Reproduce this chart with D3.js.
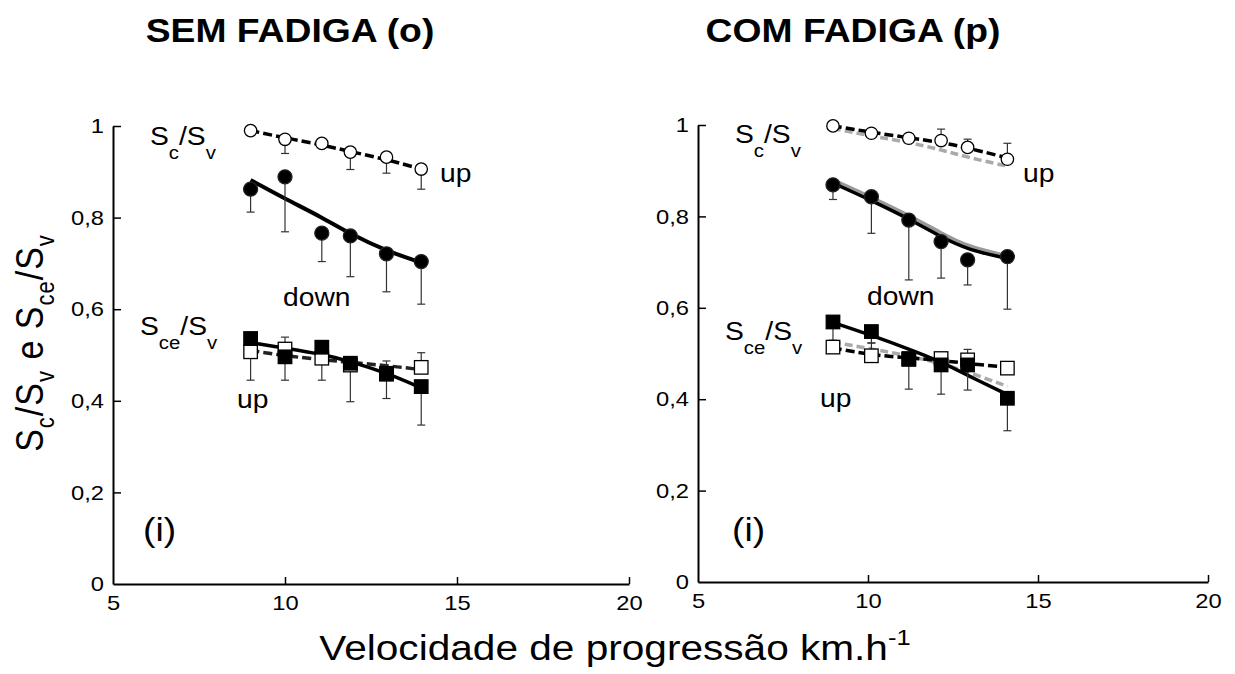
<!DOCTYPE html>
<html lang="pt">
<head>
<meta charset="UTF-8">
<title>Sc/Sv e Sce/Sv</title>
<script src="https://d3js.org/d3.v7.min.js"></script>
<style>
  body { margin: 0; background: #fff; }
  svg text { font-family: "Liberation Sans", Arial, sans-serif; fill: #000; }
</style>
</head>
<body>
<svg id="chart" width="1235" height="674"></svg>
<script>
// velocidades (km/h) de cada painel
const semSpeeds = [9.0, 10.0, 11.07, 11.9, 12.95, 13.96];
const comSpeeds = [8.97, 10.1, 11.2, 12.15, 12.93, 14.1];

// SEM FADIGA (o)
const semScUp       = [0.990, 0.971, 0.962, 0.943, 0.932, 0.906];
const semScUpSd     = [0, 0.031, 0, 0.038, 0.035, 0.044];
const semScUpFit    = [0.990, 0.974, 0.959, 0.944, 0.927, 0.906];
const semScDown     = [0.862, 0.889, 0.766, 0.760, 0.721, 0.704];
const semScDownSd   = [0.050, 0.120, 0.062, 0.089, 0.083, 0.093];
const semScDownFit  = [0.882, 0.841, 0.801, 0.764, 0.727, 0.702];
const semSceUp      = [0.507, 0.513, 0.493, 0.478, 0.460, 0.473];
const semSceUpSd    = [0, 0.026, 0, 0, 0.027, 0.032];
const semSceUpFit   = [0.510, 0.498, 0.490, 0.484, 0.477, 0.468];
const semSceDown    = [0.536, 0.496, 0.517, 0.482, 0.458, 0.431];
const semSceDownSd  = [0.091, 0.051, 0.072, 0.084, 0.053, 0.084];
const semSceDownFit = [0.527, 0.515, 0.502, 0.486, 0.461, 0.428];

// COM FADIGA (p)
const comScUp        = [0.998, 0.982, 0.971, 0.966, 0.951, 0.925];
const comScUpSd      = [0, 0, 0, 0.025, 0.018, 0.035];
const comScUpFit     = [0.998, 0.984, 0.972, 0.962, 0.950, 0.928];
const comScUpGray    = [0.992, 0.976, 0.962, 0.946, 0.929, 0.910];
const comScDown      = [0.869, 0.843, 0.792, 0.745, 0.705, 0.712];
const comScDownSd    = [0.032, 0.080, 0.131, 0.080, 0.055, 0.115];
const comScDownFit   = [0.873, 0.835, 0.795, 0.755, 0.727, 0.708];
const comScDownGray  = [0.878, 0.840, 0.801, 0.762, 0.732, 0.712];
const comSceUp       = [0.514, 0.495, 0.487, 0.489, 0.486, 0.468];
const comSceUpSd     = [0, 0.028, 0, 0, 0.023, 0];
const comSceUpFit    = [0.512, 0.497, 0.490, 0.485, 0.478, 0.470];
const comSceUpGray   = [0.525, 0.510, 0.495, 0.478, 0.460, 0.428];
const comSceDown     = [0.569, 0.548, 0.489, 0.475, 0.475, 0.402];
const comSceDownSd   = [0.040, 0.025, 0.067, 0.064, 0.055, 0.071];
const comSceDownFit  = [0.568, 0.540, 0.510, 0.482, 0.452, 0.410];

const xTicks = [5, 10, 15, 20];
const yTicks = [0, 0.2, 0.4, 0.6, 0.8, 1];

const svg = d3.select("#chart");
const SX = 1.13; // the original picture is a little wide
const fmt = d => d3.format("~g")(d).replace(".", ",");

// text with sub/superscripts: parts = [[str, "m"|"sub"|"sup"], ...]
function richText(g, parts, size, subSize, subDy) {
    const t = g.append("text").attr("font-size", size);
    let shift = 0;
    parts.forEach(([s, kind]) => {
        const target = kind === "sub" ? subDy : kind === "sup" ? -subDy : 0;
        t.append("tspan")
            .attr("dy", target - shift)
            .attr("font-size", kind === "m" ? size : subSize)
            .text(s);
        shift = target;
    });
    return t;
}

function panel(cfg) {
    const x = d3.scaleLinear().domain([5, 20]).range(cfg.xRange);
    const y = d3.scaleLinear().domain([0, 1]).range(cfg.yRange);
    const g = svg.append("g");

    // axes, ticks pointing inside
    const ax = g.append("g").attr("transform", `translate(0,${cfg.yRange[0]})`)
        .call(d3.axisBottom(x).tickValues(xTicks).tickSize(-7).tickSizeOuter(0).tickPadding(11).tickFormat(fmt));
    const ay = g.append("g").attr("transform", `translate(${cfg.xRange[0]},0)`)
        .call(d3.axisLeft(y).tickValues(yTicks).tickSize(-8).tickSizeOuter(0).tickPadding(8).tickFormat(fmt));
    [ax, ay].forEach(a => {
        a.select(".domain").attr("stroke", "#000").attr("stroke-width", 2);
        a.selectAll(".tick line").attr("stroke", "#000").attr("stroke-width", 1.5);
        a.selectAll(".tick text").attr("font-size", 21).attr("fill", "#000")
            .attr("font-family", "Liberation Sans, Arial, sans-serif")
            .attr("transform", `scale(${SX},1)`);
    });
    ax.selectAll(".tick").filter(d => d === 5).select("line").remove();
    ay.selectAll(".tick").filter(d => d === 0).select("line").remove();

    const sp = cfg.speeds;
    const line = d3.line().x((d, i) => x(sp[i])).y(d => y(d)).curve(d3.curveBasis);

    // fitted curves
    cfg.lines.forEach(l => {
        g.append("path").datum(l.values).attr("d", line)
            .attr("fill", "none")
            .attr("stroke", l.color)
            .attr("stroke-width", l.width)
            .attr("stroke-dasharray", l.dash || null);
    });

    // error bars (one-sided)
    cfg.series.forEach(s => {
        s.values.forEach((v, i) => {
            const sd = s.sd[i];
            if (!sd) return;
            const end = y(v + s.dir * sd), cx = x(sp[i]);
            g.append("line").attr("x1", cx).attr("x2", cx).attr("y1", y(v)).attr("y2", end)
                .attr("stroke", "#333").attr("stroke-width", 1.2);
            g.append("line").attr("x1", cx - 4).attr("x2", cx + 4).attr("y1", end).attr("y2", end)
                .attr("stroke", "#333").attr("stroke-width", 1.2);
        });
    });

    // markers
    cfg.series.forEach(s => {
        const sel = g.selectAll(null).data(s.values);
        if (s.shape === "circle") {
            sel.enter().append("circle")
                .attr("cx", (d, i) => x(sp[i])).attr("cy", d => y(d))
                .attr("r", s.filled ? 7 : 6.2)
                .attr("fill", s.filled ? "#000" : "#fff")
                .attr("stroke", s.filled ? "#222" : "#000").attr("stroke-width", 1.3);
        } else {
            const h = 13.5;
            sel.enter().append("rect")
                .attr("x", (d, i) => x(sp[i]) - h / 2).attr("y", d => y(d) - h / 2)
                .attr("width", h).attr("height", h)
                .attr("fill", s.filled ? "#000" : "#fff")
                .attr("stroke", "#000").attr("stroke-width", 1.3);
        }
    });

    // title
    svg.append("text").attr("transform", `translate(${cfg.titleX},42) scale(${SX},1)`)
        .attr("text-anchor", "middle").attr("font-size", 33).attr("font-weight", "bold")
        .text(cfg.title);

    // annotations
    const L = cfg.labels;
    richText(g.append("g").attr("transform", `translate(${L.sc[0]},${L.sc[1]}) scale(${SX},1)`),
        [["S", "m"], ["c", "sub"], ["/S", "m"], ["v", "sub"]], 25, 18, 14);
    richText(g.append("g").attr("transform", `translate(${L.sce[0]},${L.sce[1]}) scale(${SX},1)`),
        [["S", "m"], ["ce", "sub"], ["/S", "m"], ["v", "sub"]], 25, 18, 14);
    [["up", L.up1], ["down", L.down], ["up", L.up2]].forEach(([s, p]) => {
        g.append("text").attr("transform", `translate(${p[0]},${p[1]}) scale(${SX},1)`)
            .attr("font-size", 25).text(s);
    });
    g.append("text").attr("transform", `translate(${L.roman[0]},${L.roman[1]}) scale(${SX},1)`)
        .attr("font-size", 33).text("(i)");
}

panel({
    title: "SEM FADIGA (o)", titleX: 290,
    xRange: [113, 629], yRange: [584, 126], speeds: semSpeeds,
    lines: [
        { values: semScUpFit, color: "#000", width: 3.5, dash: "9,4" },
        { values: semScDownFit, color: "#000", width: 4 },
        { values: semSceUpFit, color: "#222", width: 3.5, dash: "9,4" },
        { values: semSceDownFit, color: "#000", width: 3.5 }
    ],
    series: [
        { values: semScUp, sd: semScUpSd, dir: -1, shape: "circle", filled: false },
        { values: semScDown, sd: semScDownSd, dir: -1, shape: "circle", filled: true },
        { values: semSceUp, sd: semSceUpSd, dir: 1, shape: "square", filled: false },
        { values: semSceDown, sd: semSceDownSd, dir: -1, shape: "square", filled: true }
    ],
    labels: { sc: [150, 145], sce: [140, 335], up1: [440, 182], down: [283, 306], up2: [237, 408], roman: [143, 541] }
});

panel({
    title: "COM FADIGA (p)", titleX: 853,
    xRange: [698, 1208], yRange: [582, 125], speeds: comSpeeds,
    lines: [
        { values: comScUpGray, color: "#aaa", width: 3.5, dash: "8,4" },
        { values: comScDownGray, color: "#999", width: 5 },
        { values: comSceUpGray, color: "#aaa", width: 3.5, dash: "8,4" },
        { values: comScUpFit, color: "#000", width: 3.5, dash: "9,4" },
        { values: comScDownFit, color: "#000", width: 3.5 },
        { values: comSceUpFit, color: "#000", width: 3.5, dash: "9,4" },
        { values: comSceDownFit, color: "#000", width: 3.5 }
    ],
    series: [
        { values: comScUp, sd: comScUpSd, dir: 1, shape: "circle", filled: false },
        { values: comScDown, sd: comScDownSd, dir: -1, shape: "circle", filled: true },
        { values: comSceUp, sd: comSceUpSd, dir: 1, shape: "square", filled: false },
        { values: comSceDown, sd: comSceDownSd, dir: -1, shape: "square", filled: true }
    ],
    labels: { sc: [735, 143], sce: [725, 340], up1: [1023, 182], down: [867, 305], up2: [820, 407], roman: [732, 541] }
});

// y axis label (rotated)
richText(svg.append("g").attr("transform", `translate(43,343) rotate(-90) scale(1,${SX})`),
    [["S", "m"], ["c", "sub"], ["/S", "m"], ["v", "sub"], [" e S", "m"], ["ce", "sub"], ["/S", "m"], ["v", "sub"]],
    34, 22, 10).attr("text-anchor", "middle").attr("letter-spacing", 1);

// x axis label
richText(svg.append("g").attr("transform", `translate(615,660) scale(1.16,1)`),
    [["Velocidade de progressão km.h", "m"], ["-1", "sup"]], 35, 22, 15).attr("text-anchor", "middle");
</script>
</body>
</html>
